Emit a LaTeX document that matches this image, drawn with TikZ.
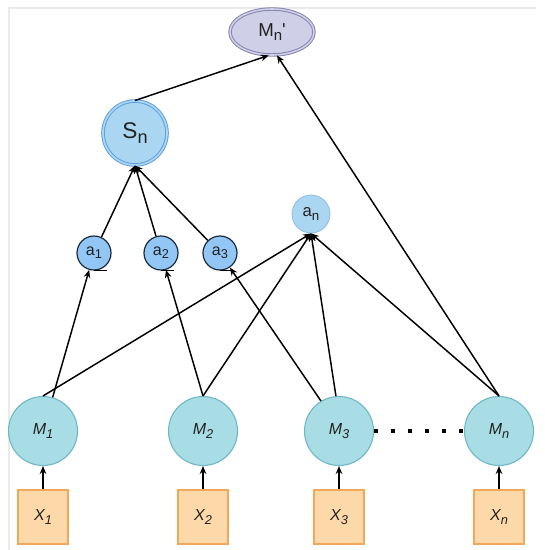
\documentclass[tikz,border=0pt]{standalone}
\usepackage{fontspec}
\setmainfont{Liberation Sans}
\usetikzlibrary{arrows.meta,positioning,shapes.geometric}
\definecolor{mfill}{HTML}{A9DDE6}
\definecolor{mline}{HTML}{6DB6C6}
\definecolor{xfill}{HTML}{FDD8A8}
\definecolor{xline}{HTML}{F2A85A}
\definecolor{afill}{HTML}{92C6F5}
\definecolor{aline}{HTML}{1C2A3C}
\definecolor{sfill}{HTML}{AAD6F2}
\definecolor{sline}{HTML}{5E9EDC}
\definecolor{pfill}{HTML}{CFCFE8}
\definecolor{pline}{HTML}{8282AC}
\definecolor{txt}{HTML}{222222}
\newcommand\lo[1]{\raisebox{-0.4ex}{\scalebox{0.8}{#1}}}
\tikzset{
  mod/.style={circle,draw=mline,fill=mfill,line width=0.8pt,minimum size=51.75pt,
              inner sep=0pt,font=\fontsize{12}{14}\selectfont\itshape,text=txt},
  inp/.style={draw=xline,fill=xfill,line width=1.6pt,minimum width=37.5pt,
              minimum height=41pt,inner sep=0pt,
              font=\fontsize{12}{14}\selectfont\itshape,text=txt},
  att/.style={circle,draw=aline,fill=afill,line width=0.9pt,minimum size=25.5pt,
              inner sep=0pt,font=\fontsize{12}{14}\selectfont,text=txt},
  fl/.style={-{Stealth[length=6pt,width=5pt]},line width=1.1pt},
}

\begin{document}
\begin{tikzpicture}[x=0.75pt, y=-0.75pt]
  \useasboundingbox (0,0) rectangle (544,550);
  % faint frame of the original figure
  \draw[black!8, line width=0.8pt] (9,550) |- (536,8);

  % the local models and their inputs
  \node[mod] (m1) at (43,431)  {M\lo{1}};
  \node[mod] (m2) at (203,431) {M\lo{2}};
  \node[mod] (m3) at (339,431) {M\lo{3}};
  \node[mod] (mn) at (499,431) {M\lo{n}};
  \node[inp] (x1) at (43,517)  {X\lo{1}};
  \node[inp] (x2) at (203,517) {X\lo{2}};
  \node[inp] (x3) at (339,517) {X\lo{3}};
  \node[inp] (xn) at (499,517) {X\lo{n}};

  % weights
  \node[att] (a1) at (94,253)  {a\lo{1}};
  \node[att] (a2) at (161,253) {a\lo{2}};
  \node[att] (a3) at (220,253) {a\lo{3}};
  \node[circle, draw=sline!70, fill=sfill, line width=0.6pt, minimum size=28.5pt,
        inner sep=0pt, font=\fontsize{12.5}{14}\selectfont, text=txt]
       (an) at (311,214) {a\lo{n}};

  % the sum and the new model
  \node[circle, draw=sline, fill=sfill, double=sfill, double distance=1.3pt,
        line width=0.7pt, minimum size=48pt, inner sep=0pt,
        font=\fontsize{17}{18}\selectfont, text=txt]
       (sn) at (135,133) {S\lo{n}};
  \node[ellipse, draw=pline, fill=pfill, double=pfill, double distance=1.2pt,
        line width=0.7pt, minimum width=63pt, minimum height=34.5pt,
        inner sep=0pt, font=\fontsize{14}{16}\selectfont, text=txt]
       (mp) at (272,32) {M\lo{n}\textquotesingle};

  \foreach \i in {1,2,3,n}
    \draw[fl] (x\i) -- (m\i);
  \foreach \i in {1,2,3} {
    \draw[fl] (a\i) -- (sn.south);
    \draw[line width=0.9pt] (a\i.south) -- ++(13,0);
  }

  \draw[fl] (m1) -- (a1);
  \draw[fl] (m1.north) -- (an.south);
  \draw[fl] (m2.north) -- (a2);
  \draw[fl] (m2.north) -- (an.south);
  \draw[fl] (m3.121) -- (a3);
  \draw[fl] (m3.95) -- (an.south);
  \draw[fl] (mn.north) -- (an.south);
  \draw[fl] (mn.north) -- (mp.282);
  \draw[fl] (sn.north) -- (mp.262);

  % the models in between
  \draw[line width=3pt, dash pattern=on 3pt off 9.75pt] (m3) -- (mn);
\end{tikzpicture}
\end{document}
